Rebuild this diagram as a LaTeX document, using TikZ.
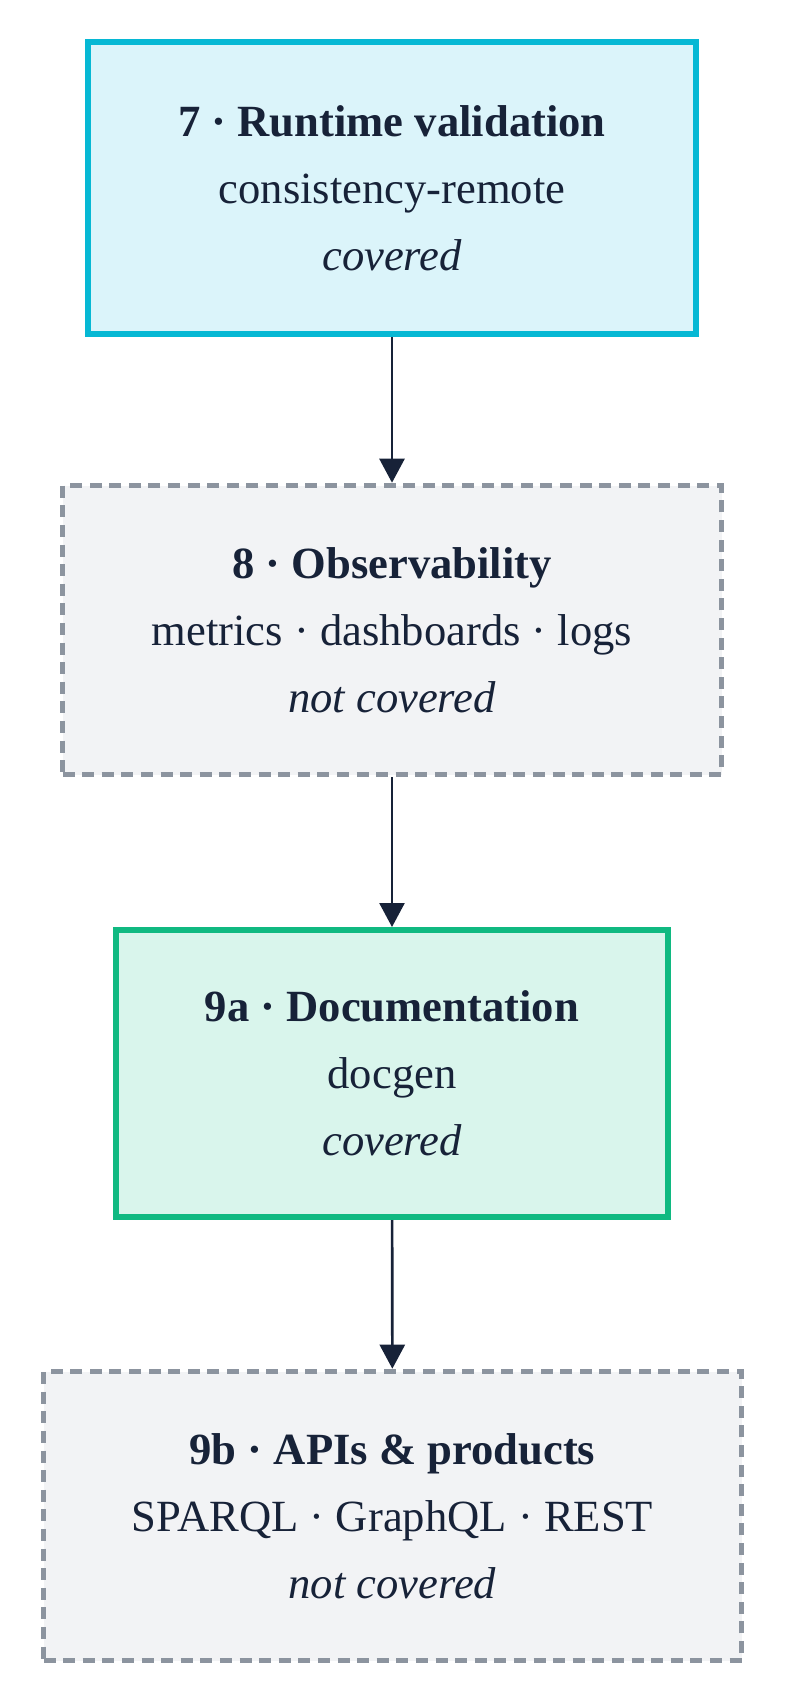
\documentclass[tikz,border=0pt]{standalone}
\usepackage{fontspec}
\setmainfont{Liberation Serif}
\usetikzlibrary{arrows.meta}
\definecolor{runline}{HTML}{06B8D4}
\definecolor{runfill}{HTML}{DBF4FA}
\definecolor{docline}{HTML}{10B981}
\definecolor{docfill}{HTML}{D9F5EC}
\definecolor{gapline}{HTML}{8C949F}
\definecolor{gapfill}{HTML}{F2F3F5}
\definecolor{inktext}{HTML}{172238}

\begin{document}
\begin{tikzpicture}[x=0.5pt, y=-0.5pt,
		stagebox/.style={rectangle, inner sep=0pt, align=center, line width=3pt,
			text=inktext, font=\fontsize{22.3}{33.5}\selectfont},
		runbox/.style={stagebox, draw=runline, fill=runfill},
		docbox/.style={stagebox, draw=docline, fill=docfill},
		gapbox/.style={stagebox, draw=gapline, fill=gapfill, line width=2.8pt,
			dash pattern=on 6pt off 3.8pt},
		flow/.style={-{Triangle[length=12pt, width=12.5pt]}, line width=1.3pt, draw=inktext}]
		%%%%% START %%%%%
		
		\useasboundingbox (0, 0) rectangle (786, 1704);
		
		\node[runbox, minimum width=304pt, minimum height=146pt] (runtime) at (392, 188)
			{\textbf{7 · Runtime validation}\\consistency-remote\\\textit{covered}};
		
		\node[gapbox, minimum width=329.5pt, minimum height=144.5pt] (observe) at (392, 630)
			{\textbf{8 · Observability}\\metrics · dashboards · logs\\\textit{not covered}};
		
		\node[docbox, minimum width=276pt, minimum height=143.5pt] (docs) at (392, 1073.5)
			{\textbf{9a · Documentation}\\docgen\\\textit{covered}};
		
		\node[gapbox, minimum width=349pt, minimum height=144.5pt] (apis) at (392.5, 1516)
			{\textbf{9b · APIs \& products}\\SPARQL · GraphQL · REST\\\textit{not covered}};
		
		\draw[flow] (runtime) -- (observe);
		\draw[flow] (observe) -- (docs);
		\draw[flow] (docs) -- (apis);
		
		%%%%% END %%%%%
	\end{tikzpicture}
\end{document}
